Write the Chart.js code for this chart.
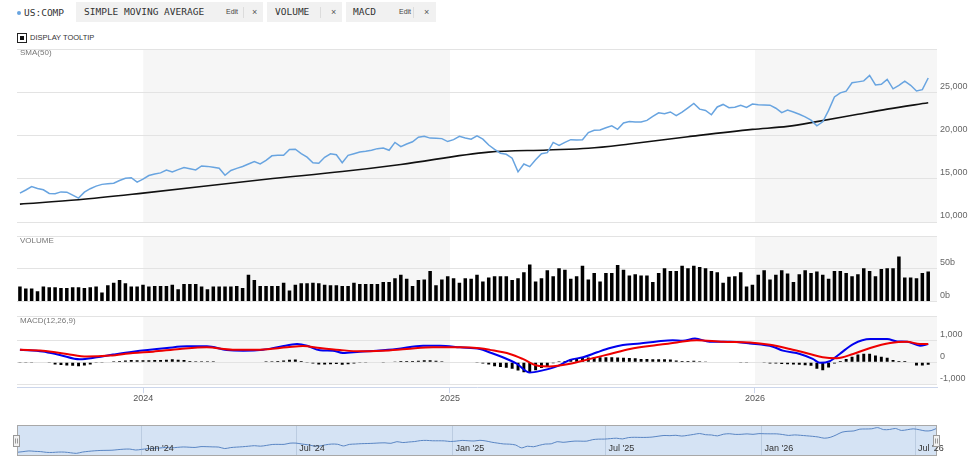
<!DOCTYPE html>
<html>
<head>
<meta charset="utf-8">
<script src="https://cdn.jsdelivr.net/npm/chart.js@4.4.1/dist/chart.umd.min.js"></script>
<style>
  body { margin: 0; width: 980px; height: 469px; background: #fff; position: relative; overflow: hidden; font-family: Arial, "Liberation Sans", sans-serif; }
  canvas { position: absolute; left: 0; }
  .abs { position: absolute; }
  .dot { left: 17px; top: 11px; width: 4px; height: 4px; border-radius: 50%; background: #68a4e0; }
  .sym { left: 24px; top: 3px; font: 9.5px "DejaVu Sans Mono", monospace; line-height: 20px; color: #333; }
  .tag { top: 2px; height: 20px; background: #f1f1f1; font: 9.5px "DejaVu Sans Mono", monospace; color: #333; line-height: 20px; }
  .tag span { position: absolute; top: 0; white-space: nowrap; }
  .tag .ed { font: 7px Arial, sans-serif; color: #444; line-height: 20px; }
  .tag .x { font: 9px Arial, sans-serif; color: #555; line-height: 20px; }
  .tag i { position: absolute; top: 5px; width: 1px; height: 11px; background: #dcdcdc; }
  .box { left: 17px; top: 33px; width: 8px; height: 8px; border: 1px solid #222; }
  .box b { position: absolute; left: 2px; top: 2px; width: 4px; height: 4px; background: #111; }
  .tip { left: 30px; top: 33px; font-size: 7.5px; line-height: 10px; color: #333; }
  .panel { left: 20px; font-size: 8px; line-height: 10px; color: #777; z-index: 2; }
</style>
</head>
<body>
<div class="abs dot"></div>
<div class="abs sym">US:COMP</div>
<div class="abs tag" style="left:76px;width:187px">
  <span style="left:8px">SIMPLE MOVING AVERAGE</span>
  <span class="ed" style="left:150px">Edit</span><i style="left:167px"></i><span class="x" style="left:176px">×</span>
</div>
<div class="abs tag" style="left:267px;width:75px">
  <span style="left:8px">VOLUME</span>
  <i style="left:53px"></i><span class="x" style="left:64px">×</span>
</div>
<div class="abs tag" style="left:346px;width:90px">
  <span style="left:7px">MACD</span>
  <span class="ed" style="left:53px">Edit</span><i style="left:67px"></i><span class="x" style="left:78px">×</span>
</div>
<div class="abs box"><b></b></div>
<div class="abs tip">DISPLAY TOOLTIP</div>

<div class="abs panel" style="top:48px">SMA(50)</div>
<div class="abs panel" style="top:236px">VOLUME</div>
<div class="abs panel" style="top:316px">MACD(12,26,9)</div>

<canvas id="priceChart" width="980" height="192" style="top:40px"></canvas>
<canvas id="volumeChart" width="980" height="82" style="top:228px"></canvas>
<canvas id="macdChart" width="980" height="100" style="top:308px"></canvas>
<canvas id="navChart" width="980" height="50" style="top:415px"></canvas>

<script>
// weekly closes, US:COMP (week 0 = early Aug 2023)
const weekPrice = [
  13340, 13700, 14100, 13870, 13720, 13300, 13260, 13480, 13450, 13100,
  12760, 13450, 13850, 14150, 14350, 14420, 14490, 14800, 15060, 15120,
  14600, 14950, 15370, 15550, 15680, 16000, 15790, 16050, 16290, 16150,
  16020, 16480, 16430, 16320, 16210, 15400, 15950, 16200, 16410, 16700,
  16980, 16720, 17120, 17650, 17720, 17720, 18380, 18410, 17900, 17490,
  16850, 16800, 17480, 17880, 17770, 16850, 17700, 17900, 18100, 18180,
  18300, 18480, 18560, 18290, 19200, 18710, 19020, 19280, 19800, 19910,
  19700, 19690, 19640, 19300, 19520, 19900, 19720, 19570, 19950, 19580,
  18900, 18400, 17950, 17830, 17370, 15800, 16700, 16400, 17200, 17900,
  18020, 19200, 18850, 19200, 19520, 19480, 19500, 20330, 20600, 20630,
  20900, 21120, 20720, 21450, 21620, 21560, 21560, 21750, 22200, 22620,
  22520, 22720, 22300, 22700, 23200, 23700, 23050, 22900, 22400, 23300,
  23590, 23220, 23260, 23500, 23250, 23640, 23560, 23530, 23510, 23150,
  22650, 22930, 22720, 22450, 22160, 21780, 21120, 21580, 22900, 24450,
  24930, 25130, 26100, 26200, 26310, 26950, 25850, 25920, 26480, 25400,
  25800, 26280, 25800, 25150, 25300, 26650
];

// weekly volume, billions
const weekVolume = [
  23, 20, 20, 16, 23, 22, 22, 21, 21, 22,
  22, 21, 22, 23, 14, 25, 29, 33, 28, 23,
  23, 26, 23, 24, 24, 24, 26, 19, 27, 27,
  27, 23, 19, 23, 23, 23, 23, 24, 21, 41,
  33, 24, 24, 24, 24, 29, 17, 26, 28, 28,
  29, 28, 26, 25, 25, 24, 24, 29, 27, 27,
  27, 27, 30, 30, 36, 41, 35, 24, 33, 34,
  47, 25, 34, 39, 36, 29, 36, 35, 41, 31,
  37, 39, 39, 39, 33, 36, 45, 57, 31, 36,
  48, 39, 51, 49, 35, 39, 55, 34, 44, 31,
  44, 44, 56, 49, 40, 42, 40, 40, 30, 44,
  51, 47, 47, 55, 51, 55, 53, 51, 47, 45,
  29, 38, 39, 45, 23, 26, 41, 48, 34, 41,
  48, 43, 30, 42, 48, 44, 46, 41, 35, 47,
  47, 44, 39, 42, 51, 47, 39, 50, 51, 51,
  69, 37, 37, 36, 44, 46
];

// SMA(50) read at a few weeks
const smaWeeks = [0, 10, 21, 42, 55, 65, 80, 90, 97, 104, 114, 125, 131, 136, 143, 148, 155];
const smaValues = [12070, 12570, 13340, 14950, 15830, 16650, 18080, 18330, 18520, 19020, 19860, 20710, 21050, 21600, 22450, 23050, 23780];

// MACD(12,26,9) line and signal
const macdWeeks = [0, 3.9, 6.8, 10.2, 13.1, 15.9, 19.3, 25.1, 28.5, 31.9,
  35.3, 38.1, 41.5, 44.4, 47.3, 49, 51.2, 53.4, 55.1, 58,
  60.9, 64.3, 68.8, 71.7, 75.1, 78.5, 80.2, 82.4, 84.8, 87,
  89.2, 91.6, 93.9, 96.1, 98.5, 100.7, 102.9, 105.8, 108.7, 111.4,
  113.1, 115.2, 117.7, 121.2, 124.6, 128.5, 130.2, 133.1, 135.3, 136.5,
  138.2, 139.9, 142.2, 145.1, 148, 149.7, 151.4, 153.6, 155];
const macdValues = [570, 490, 330, 130, 220, 345, 480, 645, 720, 720,
  555, 525, 570, 705, 825, 750, 540, 525, 420, 480,
  525, 600, 750, 750, 675, 600, 440, 225, -70, -470,
  -370, -190, 105, 225, 450, 645, 780, 850, 940, 1000,
  970, 1075, 930, 930, 850, 705, 525, 375, 150, -30,
  45, 375, 825, 1050, 1050, 940, 930, 750, 825];
const signalWeeks = [0, 3.9, 8, 11.4, 15.4, 19.3, 22.7, 27.3, 31.9, 36.3,
  41, 45.6, 48.3, 51.2, 54.6, 58, 61.9, 66, 70.5, 75.1,
  78.5, 80.2, 83.6, 85.8, 88.2, 90.4, 93.9, 97.3, 100.7, 104.1,
  108.7, 112.1, 115.5, 120, 124.6, 128, 131.4, 134.8, 137, 139.4,
  142.2, 145.1, 148.5, 151.4, 153.6, 155];
const signalValues = [570, 525, 375, 255, 300, 420, 480, 600, 675, 570,
  570, 675, 735, 645, 555, 495, 525, 600, 675, 675,
  630, 560, 375, 150, -150, -190, -70, 150, 375, 600,
  780, 900, 1000, 930, 900, 795, 600, 375, 225, 180,
  375, 645, 870, 930, 825, 825];

// MACD histogram, weekly
const histValues = [
  -40, -40, -40, -30, -30, -40, -100, -130, -150, -160,
  -180, -150, -100, -40, -40, -30, 40, 60, 80, 100,
  90, 90, 90, 100, 100, 110, 130, 110, 100, 60,
  40, 40, 40, 40, 0, -30, -30, -30, -30, -30,
  0, 0, 40, 40, 60, 80, 110, 120, 60, -40,
  -60, -100, -100, -90, -80, -110, -90, -60, -40, -40,
  -30, 0, -40, 0, 30, 60, 60, 60, 70, 90,
  90, 70, 40, 0, 0, 0, -30, -30, -40, -60,
  -100, -180, -220, -250, -300, -380, -460, -480, -360, -260,
  -180, -50, 40, 60, 120, 160, 190, 210, 230, 230,
  230, 220, 210, 200, 190, 180, 150, 140, 130, 130,
  130, 120, 80, 60, 60, 70, 40, 30, 0, -30,
  -30, -30, -30, -40, -40, -30, -30, -40, -60, -60,
  -80, -90, -100, -120, -140, -160, -300, -370, -240, -60,
  50, 150, 250, 350, 380, 380, 300, 250, 200, 100,
  60, 50, 0, -150, -150, -120
];

// time axis (in weeks)
const yearTicks = [21.05, 73.38, 125.43];
const yearLabels = ['2024', '2025', '2026'];
const navTicks = [21.05, 47.03, 73.38, 99.15, 125.43, 151.3];
const navLabels = ["Jan '24", "Jul '24", "Jan '25", "Jul '25", "Jan '26", "Jul '26"];

const priceTicks = [10000, 15000, 20000, 25000, 30000];
const volumeTicks = [0, 50, 100];
const macdTicks = [-1000, 0, 1000, 2080];

Chart.defaults.font.family = 'Arial, "Liberation Sans", sans-serif';

const X_MIN = -0.5, X_MAX = 156.5;

// grey band behind every other year
const yearBands = {
  id: 'yearBands',
  beforeDraw(chart, args, opts) {
    const { ctx, chartArea, scales: { x, y } } = chart;
    const bottom = opts.bottomValue !== undefined ? y.getPixelForValue(opts.bottomValue) : chartArea.bottom;
    ctx.save();
    ctx.fillStyle = '#f6f6f6';
    yearTicks.forEach((t, i) => {
      if (i % 2) return;
      const x0 = x.getPixelForValue(t);
      const x1 = i + 1 < yearTicks.length ? x.getPixelForValue(yearTicks[i + 1]) : chartArea.right;
      ctx.fillRect(x0, chartArea.top, Math.min(x1, chartArea.right) - x0, bottom - chartArea.top);
    });
    ctx.restore();
  }
};

function rightAxis(min, max, ticks, fmt) {
  return {
    position: 'right',
    min: min,
    max: max,
    afterBuildTicks: s => { s.ticks = ticks.map(v => ({ value: v })); },
    afterFit: s => { s.width = 43; },
    grid: { color: '#e3e3e3', drawTicks: false },
    border: { display: false },
    ticks: { padding: 3, labelOffset: -6, color: '#666', font: { size: 9 }, callback: fmt }
  };
}

function hiddenX() {
  return { type: 'linear', min: X_MIN, max: X_MAX, offset: false, display: false };
}
const quiet = { legend: { display: false }, tooltip: { enabled: false } };

// price + SMA
new Chart(document.getElementById('priceChart'), {
  type: 'line',
  data: {
    datasets: [
      {
        data: weekPrice.map((v, i) => ({ x: i, y: v })),
        borderColor: '#68a4e0', borderWidth: 1.5, pointRadius: 0, tension: 0
      },
      {
        data: smaWeeks.map((w, i) => ({ x: w, y: smaValues[i] })),
        borderColor: '#111', borderWidth: 1.6, pointRadius: 0, cubicInterpolationMode: 'monotone'
      }
    ]
  },
  options: {
    responsive: false, animation: false,
    layout: { padding: { left: 17, right: 0, top: 9, bottom: 10 } },
    plugins: quiet,
    scales: {
      x: hiddenX(),
      y: rightAxis(10000, 30000, priceTicks, v => v === 30000 ? '' : v.toLocaleString('en-US'))
    }
  },
  plugins: [yearBands]
});

// volume
new Chart(document.getElementById('volumeChart'), {
  type: 'bar',
  data: {
    datasets: [{
      data: weekVolume.map((v, i) => ({ x: i, y: v })),
      backgroundColor: '#000', barPercentage: 0.6, categoryPercentage: 1
    }]
  },
  options: {
    responsive: false, animation: false,
    layout: { padding: { left: 17, right: 0, top: 7.5, bottom: 7.5 } },
    plugins: quiet,
    scales: {
      x: hiddenX(),
      y: rightAxis(0, 100, volumeTicks, v => v === 100 ? '' : v + 'b')
    }
  },
  plugins: [yearBands]
});

// MACD
new Chart(document.getElementById('macdChart'), {
  type: 'bar',
  data: {
    datasets: [
      {
        type: 'bar', order: 3,
        data: histValues.map((v, i) => ({ x: i, y: v })),
        backgroundColor: '#000', barPercentage: 0.5, categoryPercentage: 1
      },
      {
        type: 'line', order: 2,
        data: macdWeeks.map((w, i) => ({ x: w, y: macdValues[i] })),
        borderColor: '#0000ee', borderWidth: 2, pointRadius: 0, cubicInterpolationMode: 'monotone'
      },
      {
        type: 'line', order: 1,
        data: signalWeeks.map((w, i) => ({ x: w, y: signalValues[i] })),
        borderColor: '#ee0000', borderWidth: 2, pointRadius: 0, cubicInterpolationMode: 'monotone'
      }
    ]
  },
  options: {
    responsive: false, animation: false,
    layout: { padding: { left: 17, right: 0, top: 7, bottom: 4 } },
    plugins: Object.assign({ yearBands: { bottomValue: -1000 } }, quiet),
    scales: {
      x: {
        type: 'linear', min: X_MIN, max: X_MAX, offset: false,
        afterBuildTicks: s => { s.ticks = yearTicks.map(v => ({ value: v })); },
        grid: { offset: false, drawOnChartArea: false, drawTicks: true, tickLength: 6, color: '#ccd6eb' },
        border: { color: '#ccd6eb' },
        ticks: { padding: 0, color: '#555', font: { size: 9 }, maxRotation: 0, autoSkip: false,
          callback: (v, i) => yearLabels[i] }
      },
      y: rightAxis(-1135, 2080, macdTicks, v => v === 2080 ? '' : v.toLocaleString('en-US'))
    }
  },
  plugins: [yearBands]
});

// navigator strip
const navFrame = {
  id: 'navFrame',
  beforeDraw(chart) {
    const { ctx, chartArea: a } = chart;
    ctx.save();
    ctx.fillStyle = '#d5e3f4';
    ctx.fillRect(a.left, a.top, a.right - a.left, a.bottom - a.top);
    ctx.restore();
  },
  afterDraw(chart) {
    const { ctx, chartArea: a, scales: { x } } = chart;
    ctx.save();
    ctx.strokeStyle = '#a8a8a8';
    ctx.lineWidth = 1;
    ctx.strokeRect(a.left + 0.5, a.top + 0.5, a.right - a.left - 1, a.bottom - a.top - 1);
    ctx.fillStyle = '#333';
    ctx.font = '9px Arial, "Liberation Sans", sans-serif';
    ctx.textBaseline = 'middle';
    navTicks.forEach((t, i) => ctx.fillText(navLabels[i], x.getPixelForValue(t) + 3, a.bottom - 7));
    // handles at both ends
    [a.left, a.right].forEach(hx => {
      const left = Math.round(hx) - 3.5, top = a.top + 10.5;
      ctx.fillStyle = '#f2f2f2';
      ctx.fillRect(left, top, 6, 11);
      ctx.strokeStyle = '#999';
      ctx.strokeRect(left, top, 6, 11);
      ctx.beginPath();
      ctx.moveTo(left + 2, top + 3); ctx.lineTo(left + 2, top + 8);
      ctx.moveTo(left + 4, top + 3); ctx.lineTo(left + 4, top + 8);
      ctx.stroke();
    });
    ctx.restore();
  }
};

new Chart(document.getElementById('navChart'), {
  type: 'line',
  data: {
    datasets: [{
      data: weekPrice.map((v, i) => ({ x: i, y: v })),
      borderColor: '#5a86c4', borderWidth: 1, pointRadius: 0, tension: 0.3
    }]
  },
  options: {
    responsive: false, animation: false,
    layout: { padding: { left: 17, right: 43, top: 10, bottom: 9 } },
    plugins: quiet,
    scales: {
      x: {
        type: 'linear', min: 0, max: 155,
        afterBuildTicks: s => { s.ticks = navTicks.map(v => ({ value: v })); },
        grid: { color: 'rgba(140,160,190,0.35)', drawTicks: false },
        border: { display: false },
        ticks: { display: false }
      },
      y: { min: 11300, max: 28400, display: false }
    }
  },
  plugins: [navFrame]
});
</script>
</body>
</html>
